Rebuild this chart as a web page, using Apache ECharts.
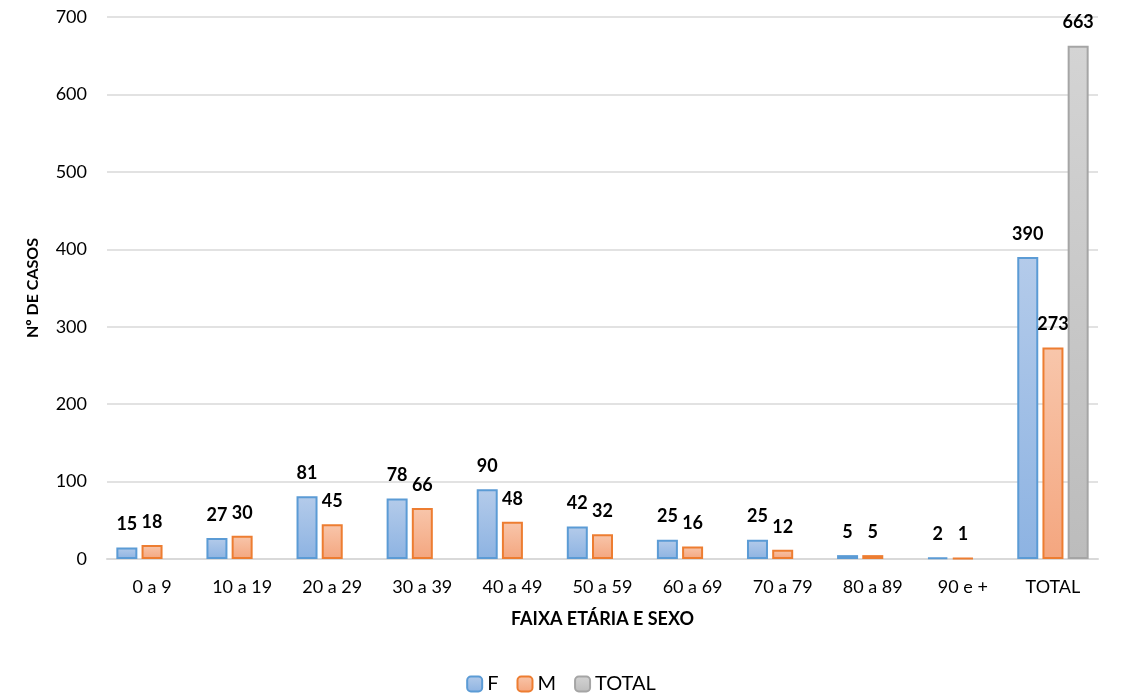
<!DOCTYPE html>
<html>
<head>
<meta charset="utf-8">
<script src="https://cdn.jsdelivr.net/npm/echarts@6/dist/echarts.min.js"></script>
<style>html,body{margin:0;padding:0;background:#fff}#c{width:1122px;height:699px}</style>
</head>
<body>
<div id="c"></div>
<script>
const categories = ['0 a 9','10 a 19','20 a 29','30 a 39','40 a 49','50 a 59','60 a 69','70 a 79','80 a 89','90 e +','TOTAL'];
const seriesF = [15,27,81,78,90,42,25,25,5,2,390];
const seriesM = [18,30,45,66,48,32,16,12,5,1,273];
const seriesTotal = [null,null,null,null,null,null,null,null,null,null,663];
const yTicks = [0,100,200,300,400,500,600,700];

const FONT = 'Lato';
function grad(top, bottom){
  return new echarts.graphic.LinearGradient(0,0,0,1,[{offset:0,color:top},{offset:1,color:bottom}]);
}
const label = {show:true, position:'top', distance:14, color:'#000', fontFamily:FONT, fontWeight:'bold', fontSize:18};
function mk(name, data, top, bottom, border){
  return {name, type:'bar', data, barWidth:21, barGap:'20%',
    itemStyle:{color:grad(top,bottom), borderColor:border, borderWidth:2},
    label:label};
}
const chart = echarts.init(document.getElementById('c'));
chart.setOption({
  animation:false,
  textStyle:{fontFamily:FONT},
  grid:{left:107, right:24, top:17, bottom:140},
  legend:{top:672, left:'center', itemWidth:15, itemHeight:15, itemGap:18, padding:[2,5,2,5],
    textStyle:{fontFamily:FONT, fontSize:20, color:'#000'},
    data:[
      {name:'F', itemStyle:{color:grad('#b4cbea','#8db3e2'), borderColor:'#5b9bd5', borderWidth:2}},
      {name:'M', itemStyle:{color:grad('#f8c6ab','#f4a67f'), borderColor:'#ed7d31', borderWidth:2}},
      {name:'TOTAL', itemStyle:{color:grad('#d4d4d4','#bcbcbc'), borderColor:'#a5a5a5', borderWidth:2}}
    ]},
  xAxis:{type:'category', data:categories,
    name:'FAIXA ETÁRIA E SEXO', nameLocation:'middle', nameGap:51,
    nameTextStyle:{fontFamily:FONT, fontWeight:'bold', fontSize:18, color:'#000'},
    axisLine:{lineStyle:{color:'#d9d9d9', width:2}}, axisTick:{show:false},
    axisLabel:{fontFamily:FONT, fontSize:18, color:'#000', margin:19, interval:0}},
  yAxis:{type:'value', min:yTicks[0], max:yTicks[yTicks.length-1], interval:100,
    name:'Nº DE CASOS', nameLocation:'middle', nameGap:66,
    nameTextStyle:{fontFamily:FONT, fontWeight:'bold', fontSize:16, color:'#000'},
    axisLine:{show:false}, axisTick:{show:false},
    splitLine:{lineStyle:{color:'#d9d9d9', width:1.5}},
    axisLabel:{fontFamily:FONT, fontSize:18, color:'#000', margin:20}},
  series:[
    mk('F', seriesF, '#b4cbea', '#8db3e2', '#5b9bd5'),
    mk('M', seriesM, '#f8c6ab', '#f4a67f', '#ed7d31'),
    mk('TOTAL', seriesTotal, '#d4d4d4', '#bcbcbc', '#a5a5a5')
  ]
});
</script>
</body>
</html>
